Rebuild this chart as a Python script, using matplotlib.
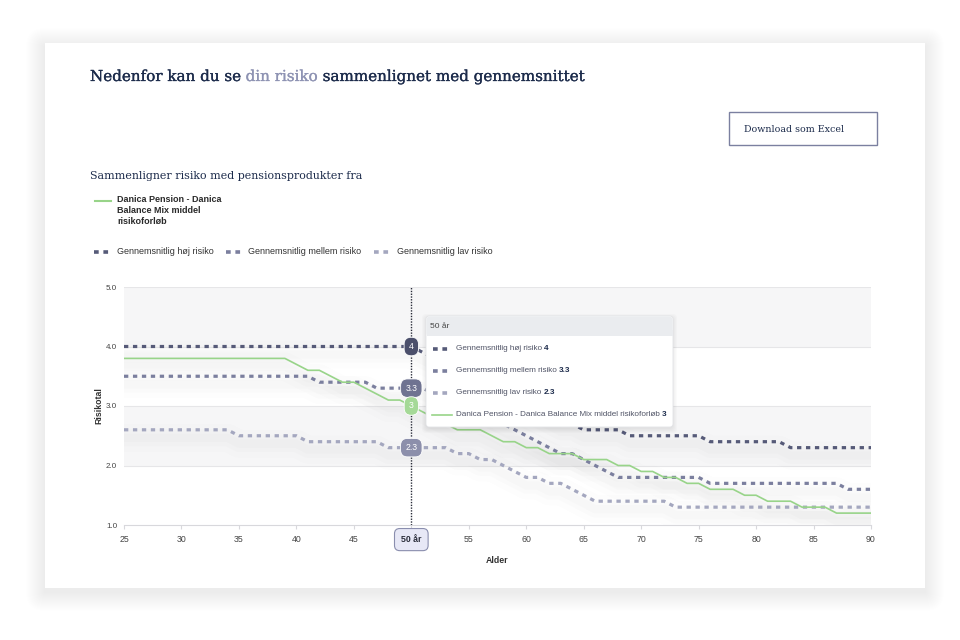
import matplotlib
matplotlib.use("Agg")
import matplotlib.pyplot as plt
from matplotlib.patches import Rectangle, FancyBboxPatch
from matplotlib import transforms
import matplotlib.patheffects as pe

# data (age -> risk score)
ages = list(range(25, 91))
hoej = [4.0] * 26 + [3.9, 3.8, 3.7, 3.6, 3.5, 3.4, 3.3, 3.2, 3.1, 3.0,
                     2.9, 2.8, 2.7, 2.7, 2.6, 2.6, 2.6, 2.6] + [2.5] * 7 + [2.4] * 7 + [2.3] * 8
mellem = [3.5] * 17 + [3.4] * 5 + [3.3] * 5 + [3.2, 3.1, 3.0, 2.9, 2.9, 2.8, 2.7, 2.6,
                                               2.5, 2.4, 2.3, 2.2, 2.2, 2.1, 2.0, 1.9] + [1.8] * 8 + [1.7] * 12 + [1.6] * 3
lav = [2.6] * 10 + [2.5] * 6 + [2.4] * 7 + [2.3] * 6 + [2.2, 2.2, 2.1, 2.1, 2.0, 1.9,
                                                      1.8, 1.8, 1.7, 1.7, 1.6, 1.5] + [1.4] * 7 + [1.3] * 18
danica = [3.8] * 15 + [3.7, 3.6, 3.6, 3.5, 3.4, 3.4, 3.3, 3.2, 3.1, 3.1, 3.0,
                       2.9, 2.8, 2.7, 2.6, 2.6, 2.6, 2.5, 2.4, 2.4, 2.3, 2.3, 2.2, 2.2, 2.2,
                       2.1, 2.1, 2.1, 2.0, 2.0, 1.9, 1.9, 1.8, 1.8, 1.7, 1.7, 1.6, 1.6, 1.6,
                       1.5, 1.5, 1.4, 1.4, 1.4, 1.3, 1.3, 1.3, 1.2, 1.2, 1.2, 1.2]
names = ["Gennemsnitlig høj risiko", "Gennemsnitlig mellem risiko", "Gennemsnitlig lav risiko"]
danica_name = "Danica Pension - Danica Balance Mix middel risikoforløb"
xticks = list(range(25, 91, 5))
yticks = [1.0, 2.0, 3.0, 4.0, 5.0]
hover_age = 50

NAVY = "#1c2b4b"
LILAC = "#8e93b3"
C_HOEJ = "#565a78"
C_MELLEM = "#7b7f9e"
C_LAV = "#a4a7bf"
C_GREEN = "#98d489"
SANS = "Liberation Sans"
SERIF = "DejaVu Serif"

fig = plt.figure(figsize=(9.6, 6.4), dpi=100)
fig.patch.set_facecolor("white")

# background axes in pixel units
bg = fig.add_axes([0, 0, 1, 1], zorder=0)
bg.set_xlim(0, 960)
bg.set_ylim(640, 0)
bg.axis("off")

# card with soft shadow
for k in range(1, 20):
    bg.add_patch(FancyBboxPatch((45 - k, 43 - k + 4), 880 + 2 * k, 545 + 2 * k,
                                boxstyle="round,pad=0,rounding_size=%d" % k,
                                facecolor="black", alpha=0.0055, edgecolor="none"))
bg.add_patch(Rectangle((45, 43), 880, 545, facecolor="white", edgecolor="none"))

renderer = fig.canvas.get_renderer()

# title in two colours (thin stroke to give it a little more weight)
x = 90
for part, col in [("Nedenfor kan du se ", NAVY), ("din risiko", LILAC),
                  (" sammenlignet med gennemsnittet", NAVY)]:
    t = bg.text(x, 77, part, fontsize=10.9, family=SERIF, color=col, va="center", ha="left",
                path_effects=[pe.withStroke(linewidth=0.2, foreground=col)])
    x += t.get_window_extent(renderer).width

# download button
bg.add_patch(Rectangle((729, 112), 148, 33, facecolor="white", edgecolor="#7b80a0", lw=1))
bg.text(794, 129, "Download som Excel", fontsize=6.8, family=SERIF, color=NAVY,
        ha="center", va="center")

bg.text(90, 176, "Sammenligner risiko med pensionsprodukter fra", fontsize=7.95,
        family=SERIF, color=NAVY, ha="left", va="center")

# legend
bg.plot([95, 111], [201, 201], color=C_GREEN, lw=1.5)
bg.text(117, 195.5, "Danica Pension - Danica\nBalance Mix middel\nrisikoforløb", fontsize=6.5,
        family=SANS, weight="bold", color="#2a2a2a", ha="left", va="top", linespacing=1.22)
for (mx, tx), name, col in zip([(94, 117), (226, 248), (374, 397)], names, [C_HOEJ, C_MELLEM, C_LAV]):
    bg.plot([mx, mx + 18], [252, 252], color=col, lw=2.6, dashes=(1.3, 1.3))
    bg.text(tx, 252, name, fontsize=6.5, family=SANS, color="#333333", ha="left", va="center")

# main chart
ax = fig.add_axes([124 / 960, 1 - 525 / 640, 747 / 960, 238 / 640], zorder=1)
ax.patch.set_visible(False)
ax.set_xlim(25, 90)
ax.set_ylim(1, 5)
ax.axhspan(4, 5, color="#f6f6f7", zorder=0, lw=0)
ax.axhspan(2, 3, color="#f6f6f7", zorder=0, lw=0)
for yv in yticks[1:]:
    ax.axhline(yv, color="#e6e6e8", lw=0.8, zorder=0.5)

shadow = transforms.offset_copy(ax.transData, fig=fig, x=0, y=-8, units="dots")
series = [(hoej, C_HOEJ, True), (mellem, C_MELLEM, True), (lav, C_LAV, True), (danica, C_GREEN, False)]
for vals, col, dashed in series:
    for lw, a in [(20, 0.012), (12, 0.014), (6, 0.014)]:
        ax.plot(ages, vals, color="#666666", lw=lw, alpha=a, transform=shadow,
                solid_capstyle="butt", zorder=1)
for vals, col, dashed in series:
    if dashed:
        ax.plot(ages, vals, color=col, lw=2.3, dashes=(1.35, 1.45), zorder=3)
    else:
        ax.plot(ages, vals, color=col, lw=1.2, zorder=3)

for s in ["left", "right", "top"]:
    ax.spines[s].set_visible(False)
ax.spines["bottom"].set_color("#d8d8dc")
ax.set_xticks(xticks)
ax.set_xticklabels(["" if v == hover_age else str(v) for v in xticks])
ax.set_yticks(yticks)
ax.set_yticklabels(["%.1f" % v for v in yticks])
ax.tick_params(axis="x", length=3, color="#d8d8dc", labelsize=6.3, labelcolor="#444444", pad=4)
ax.tick_params(axis="y", length=0, labelsize=5.8, labelcolor="#444444", pad=5)
for lab in ax.get_xticklabels() + ax.get_yticklabels():
    lab.set_family(SANS)
ax.set_xlabel("Alder", fontsize=6.3, family=SANS, weight="bold", color="#333333", labelpad=9)
ax.set_ylabel("Risikotal", fontsize=6.3, family=SANS, weight="bold", color="#333333", labelpad=2)

# crosshair at hovered age
ax.axvline(hover_age, color="#2a2d3a", lw=1.0, ls=(0, (1, 1)), zorder=4)
i = ages.index(hover_age)
for vals, col in [(hoej, "#4b4f6b"), (mellem, "#6f7391"), (danica, "#a5d997"), (lav, "#8c8fab")]:
    ax.text(hover_age, vals[i], "%g" % vals[i], fontsize=6.2, family=SANS, color="white",
            ha="center", va="center", zorder=6,
            bbox=dict(boxstyle="round,pad=0.55,rounding_size=0.8", facecolor=col,
                      edgecolor="white", lw=0.6))
ax.annotate("%d år" % hover_age, xy=(hover_age, 1), xycoords="data", xytext=(0, -10.5),
            textcoords="offset points", fontsize=6.3, family=SANS, weight="bold",
            color="#2a2d3a", ha="center", va="center", zorder=6, annotation_clip=False,
            bbox=dict(boxstyle="round,pad=0.75,rounding_size=0.6", facecolor="#e7e8f6",
                      edgecolor="#8a8eae", lw=0.8))

# tooltip overlay
ov = fig.add_axes([0, 0, 1, 1], zorder=2)
ov.set_xlim(0, 960)
ov.set_ylim(640, 0)
ov.axis("off")
for k in range(1, 6):
    ov.add_patch(FancyBboxPatch((426 - k + 1, 316 - k + 3), 247 + 2 * k - 2, 111 + 2 * k - 2,
                                boxstyle="round,pad=0,rounding_size=4", facecolor="black",
                                alpha=0.016, edgecolor="none"))
ov.add_patch(FancyBboxPatch((426, 316), 247, 111, boxstyle="round,pad=0,rounding_size=3",
                            facecolor="white", edgecolor="#e2e3e6", lw=0.6))
ov.add_patch(FancyBboxPatch((426.5, 316.5), 246, 19.5, boxstyle="round,pad=0,rounding_size=3",
                            facecolor="#eaecef", edgecolor="none"))
ov.add_patch(Rectangle((426.5, 330), 246, 6, facecolor="#eaecef", edgecolor="none"))
ov.text(430, 326, "%d år" % hover_age, fontsize=6.0, family=SANS, color="#444444",
        ha="left", va="center")
rows = [(names[0], hoej, C_HOEJ, True), (names[1], mellem, C_MELLEM, True),
        (names[2], lav, C_LAV, True), (danica_name, danica, C_GREEN, False)]
for (name, vals, col, dashed), ry in zip(rows, [349, 371, 393, 415]):
    if dashed:
        ov.plot([433, 451], [ry, ry], color=col, lw=2.6, dashes=(1.3, 1.3))
    else:
        ov.plot([432, 452], [ry, ry], color=col, lw=1.2)
    t = ov.text(456, ry, name + " ", fontsize=5.9, family=SANS, color="#505466",
                ha="left", va="center")
    w = t.get_window_extent(renderer).width
    ov.text(456 + w, ry, "%g" % vals[i], fontsize=5.9, family=SANS, weight="bold",
            color=NAVY, ha="left", va="center")

fig.savefig("out.png", dpi=100)
